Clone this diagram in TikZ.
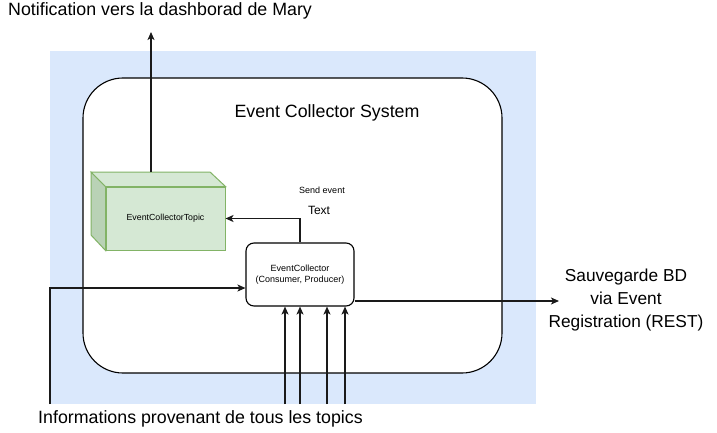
\documentclass[tikz,border=0pt]{standalone}
\usepackage{fontspec}
\setmainfont{Liberation Sans}
\usetikzlibrary{arrows.meta,calc}
\definecolor{bgblue}{HTML}{DAE8FC}
\definecolor{gfill}{HTML}{D5E8D4}
\definecolor{gside}{HTML}{B9D2B6}
\definecolor{gline}{HTML}{82B366}
\definecolor{ink}{HTML}{1A1A1A}
\tikzset{
  arr/.style={draw=ink,line width=1.3pt,-{Stealth[length=8pt,width=7pt,inset=2pt]}},
  sysbox/.style={draw=black,line width=1.1pt,fill=white,rounded corners=40pt,minimum width=419pt,minimum height=295pt,inner sep=0pt},
  ecbox/.style={draw=black,line width=1.1pt,fill=white,rounded corners=8pt,minimum width=108pt,minimum height=63pt,inner sep=0pt,align=center,font=\fontsize{9}{11}\selectfont},
  topicbox/.style={draw=gline,line width=1pt,fill=gfill,minimum width=119pt,minimum height=63pt,inner sep=0pt,font=\fontsize{8.8}{10}\selectfont},
  bigtxt/.style={font=\fontsize{17.8}{23}\selectfont,inner sep=0pt,align=center},
  smalltxt/.style={font=\fontsize{9}{11}\selectfont,inner sep=0pt},
}
\begin{document}
\begin{tikzpicture}[x=1pt,y=-1pt]
\useasboundingbox (0,0) rectangle (717,433);
% background
\fill[bgblue] (50,51) rectangle (536,404);
% system box
\node[sysbox] (sys) at (292.5,225.5) {};
\node[bigtxt] (title) at (327,113) {Event Collector System};
% cube topic
\node[topicbox] (topic) at (165.5,218.5) {EventCollectorTopic};
\fill[gside,draw=gline,line width=1pt] (topic.north west) -- ++(-14.5,-14.5) -- ++(0,63) -- (topic.south west) -- cycle;
\fill[gfill,draw=gline,line width=1pt] (topic.north west) -- ++(-14.5,-14.5) -- ++(119,0) -- (topic.north east) -- cycle;
% event collector
\node[ecbox] (ec) at (300,274.5) {EventCollector\\(Consumer, Producer)};
% coordinates
\coordinate (cubetop) at (151,172);
\coordinate (notif) at (151,32);
\coordinate (lin) at (50,404);
\coordinate (b1) at (285,404);
\coordinate (b2) at (300,404);
\coordinate (b3) at (327,404);
\coordinate (b4) at (345,404);
\coordinate (outR) at (559,301);
% connectors
\draw[arr] (cubetop) -- (notif);
\draw[arr] (ec.north) |- (topic.east);
\draw[arr] (lin) |- ($(ec.west)+(0,13.5)$);
\draw[arr] (b1) -- (b1 |- ec.south);
\draw[arr] (b2) -- (b2 |- ec.south);
\draw[arr] (b3) -- (b3 |- ec.south);
\draw[arr] (b4) -- (b4 |- ec.south);
\draw[arr] ($(ec.east)+(0,26.5)$) -- (outR);
% labels
\node[smalltxt,anchor=center] (send) at (322,190) {Send event};
\node[font=\fontsize{12}{14}\selectfont,inner sep=0pt] (txt) at (319,210) {Text};
\node[bigtxt,anchor=west] (notiftxt) at (8,11) {Notification vers la dashborad de Mary};
\node[bigtxt,anchor=center,font=\fontsize{17.3}{23}\selectfont] (savetxt) at (626,300) {Sauvegarde BD\\via Event\\Registration (REST)};
\node[bigtxt,anchor=center] (infotxt) at (200.5,419) {Informations provenant de tous les topics};
\end{tikzpicture}
\end{document}
